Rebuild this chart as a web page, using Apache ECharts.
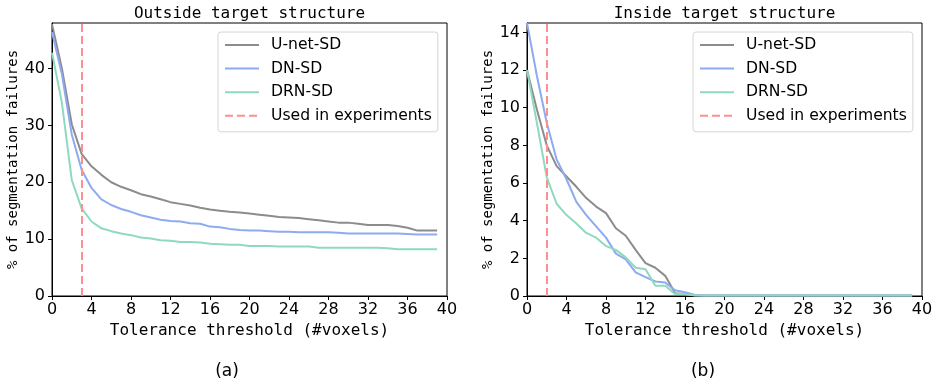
<!DOCTYPE html>
<html>
<head>
<meta charset="utf-8">
<script src="https://cdn.jsdelivr.net/npm/echarts@6/dist/echarts.min.js"></script>
<style>html,body{margin:0;padding:0;background:#fff;}#c{width:938px;height:384px;}</style>
</head>
<body>
<div id="c"></div>
<script>
// ---- data ----
const xs = [0,1,2,3,4,5,6,7,8,9,10,11,12,13,14,15,16,17,18,19,20,21,22,23,24,25,26,27,28,29,30,31,32,33,34,35,36,37,38,39];
const seriesNames = ['U-net-SD', 'DN-SD', 'DRN-SD'];
const thresholdName = 'Used in experiments';

const unetOut = [47.8,40.0,30.2,25.0,22.8,21.3,20.0,19.2,18.6,17.9,17.5,17.0,16.5,16.2,15.9,15.5,15.2,15.0,14.8,14.7,14.5,14.3,14.1,13.9,13.8,13.7,13.5,13.3,13.1,12.9,12.9,12.7,12.5,12.5,12.5,12.3,12.0,11.5,11.5,11.5];
const dnOut   = [46.4,39.0,28.4,22.2,19.0,17.0,16.0,15.3,14.8,14.2,13.8,13.4,13.2,13.1,12.8,12.7,12.2,12.1,11.8,11.6,11.5,11.5,11.4,11.3,11.3,11.2,11.2,11.2,11.2,11.1,11.0,11.0,11.0,11.0,11.0,11.0,10.9,10.8,10.8,10.8];
const drnOut  = [42.8,34.0,20.4,15.4,13.1,11.9,11.4,11.0,10.7,10.3,10.1,9.8,9.7,9.5,9.5,9.4,9.2,9.1,9.0,9.0,8.8,8.8,8.8,8.7,8.7,8.7,8.7,8.5,8.5,8.5,8.5,8.5,8.5,8.5,8.4,8.2,8.2,8.2,8.2,8.2];

const unetIn = [12.0,9.9,8.0,6.9,6.35,5.8,5.2,4.75,4.4,3.6,3.2,2.45,1.75,1.5,1.07,0.14,0.1,0.04,0.03,0.03,0.03,0.03,0.02,0.02,0.02,0.02,0.02,0.02,0.02,0.02,0.02,0.02,0.02,0.02,0.02,0.02,0.02,0.02,0.02,0.02];
const dnIn   = [14.5,11.7,9.2,7.25,6.2,5.0,4.3,3.7,3.1,2.25,1.95,1.25,1.0,0.77,0.72,0.3,0.2,0.05,0.03,0.03,0.03,0.03,0.02,0.02,0.02,0.02,0.02,0.02,0.02,0.02,0.02,0.02,0.02,0.02,0.02,0.02,0.02,0.02,0.02,0.02];
const drnIn  = [12.0,9.2,6.3,4.9,4.3,3.85,3.35,3.1,2.65,2.45,2.05,1.5,1.42,0.55,0.55,0.1,0.1,0.03,0.02,0.02,0.02,0.02,0.02,0.02,0.02,0.02,0.02,0.02,0.02,0.02,0.02,0.02,0.02,0.02,0.02,0.02,0.02,0.02,0.02,0.02];

const thresholdOut = 3;
const thresholdIn = 2;

const xTicks = [0,4,8,12,16,20,24,28,32,36,40];
const yTicksOut = [0,10,20,30,40];
const yTicksIn = [0,2,4,6,8,10,12,14];

const titles = ['Outside target structure', 'Inside target structure'];
const captions = ['(a)', '(b)'];
const xLabel = 'Tolerance threshold (#voxels)';
const yLabel = '% of segmentation failures';

// ---- styles ----
const colors = ['#8c8c8c', '#8eaaf0', '#8fdabd'];
const redDash = '#ff8f8f';
const SANS = 'DejaVu Sans';
const MONO = 'DejaVu Sans Mono';

function pairs(vals) { return xs.map((x, i) => [x, vals[i]]); }

function xAxis(gi) {
  return {
    type: 'value', gridIndex: gi, min: 0, max: 40, interval: 4,
    name: xLabel, nameLocation: 'middle', nameGap: 23,
    nameTextStyle: { fontFamily: MONO, fontSize: 16, color: '#000' },
    axisLine: { show: true, lineStyle: { color: '#000', width: 1 } },
    axisTick: { show: true, length: 4, lineStyle: { color: '#000' }, customValues: xTicks },
    axisLabel: { margin: 6, fontFamily: SANS, fontSize: 16, color: '#000', customValues: xTicks },
    splitLine: { show: false }
  };
}
function yAxis(gi, max, ticks) {
  return {
    type: 'value', gridIndex: gi, min: 0, max: max,
    name: yLabel, nameLocation: 'middle', nameGap: 28, nameRotate: 90,
    nameTextStyle: { fontFamily: MONO, fontSize: 14, color: '#000' },
    axisLine: { show: true, lineStyle: { color: '#000', width: 1 } },
    axisTick: { show: true, length: 4, lineStyle: { color: '#000' }, customValues: ticks },
    axisLabel: { margin: 7, fontFamily: SANS, fontSize: 16, color: '#000', customValues: ticks },
    splitLine: { show: false }
  };
}
function lineSeries(name, vals, gi, ci) {
  return {
    type: 'line', name: name, xAxisIndex: gi, yAxisIndex: gi,
    data: pairs(vals), symbol: 'none', showSymbol: false,
    lineStyle: { color: colors[ci], width: 2 }, itemStyle: { color: colors[ci] },
    animation: false, z: 3
  };
}
function threshSeries(gi, thr) {
  return {
    type: 'line', name: thresholdName, xAxisIndex: gi, yAxisIndex: gi,
    data: [], symbol: 'none',
    lineStyle: { color: redDash, width: 2, type: [8, 4] }, itemStyle: { color: redDash },
    markLine: {
      silent: true, symbol: ['none', 'none'], animation: false,
      label: { show: false },
      lineStyle: { color: redDash, width: 2, type: [8, 4] },
      data: [{ xAxis: thr }]
    },
    animation: false, z: 2
  };
}
function legend(left) {
  return {
    orient: 'vertical', left: left, top: 32,
    data: seriesNames.concat([thresholdName]),
    itemWidth: 34, itemHeight: 14, itemGap: 7.6,
    padding: [5, 6, 8, 6],
    borderColor: '#d6d6d6', borderWidth: 1, borderRadius: 3,
    backgroundColor: 'rgba(255,255,255,0.8)',
    itemStyle: { opacity: 0 },
    textStyle: { fontFamily: SANS, fontSize: 15.6, color: '#000', padding: [0, 0, 0, 7] },
    selectedMode: false
  };
}

const chart = echarts.init(document.getElementById('c'), null, { renderer: 'canvas' });
chart.setOption({
  animation: false,
  backgroundColor: '#fff',
  grid: [
    { left: 52, top: 23, width: 395, height: 273, show: true, borderColor: '#000', borderWidth: 1, backgroundColor: 'transparent' },
    { left: 527, top: 23, width: 395, height: 273, show: true, borderColor: '#000', borderWidth: 1, backgroundColor: 'transparent' }
  ],
  xAxis: [xAxis(0), xAxis(1)],
  yAxis: [yAxis(0, 48, yTicksOut), yAxis(1, 14.5, yTicksIn)],
  legend: [legend(218), legend(693)],
  series: [
    lineSeries(seriesNames[0], unetOut, 0, 0),
    lineSeries(seriesNames[1], dnOut, 0, 1),
    lineSeries(seriesNames[2], drnOut, 0, 2),
    threshSeries(0, thresholdOut),
    lineSeries(seriesNames[0], unetIn, 1, 0),
    lineSeries(seriesNames[1], dnIn, 1, 1),
    lineSeries(seriesNames[2], drnIn, 1, 2),
    threshSeries(1, thresholdIn)
  ],
  graphic: [
    { type: 'text', x: 249.5, y: 13.5, style: { text: titles[0], fontFamily: MONO, fontSize: 16, fill: '#000', align: 'center', verticalAlign: 'middle' } },
    { type: 'text', x: 724.5, y: 13.5, style: { text: titles[1], fontFamily: MONO, fontSize: 16, fill: '#000', align: 'center', verticalAlign: 'middle' } },
    { type: 'text', x: 227, y: 372, style: { text: captions[0], fontFamily: SANS, fontSize: 17, fill: '#000', align: 'center', verticalAlign: 'middle' } },
    { type: 'text', x: 703, y: 372, style: { text: captions[1], fontFamily: SANS, fontSize: 17, fill: '#000', align: 'center', verticalAlign: 'middle' } }
  ]
});
</script>
</body>
</html>
